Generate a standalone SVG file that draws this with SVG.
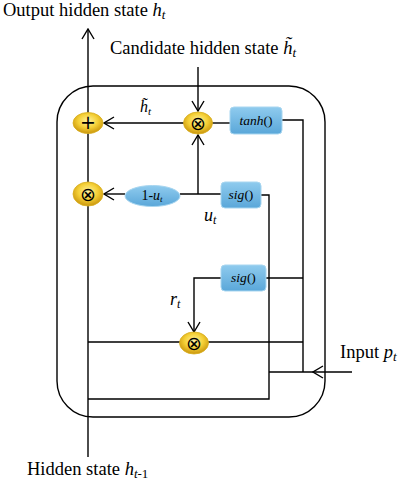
<svg xmlns="http://www.w3.org/2000/svg" width="401" height="481" viewBox="0 0 401 481">
<defs>
<radialGradient id="gold" cx="50%" cy="40%" r="60%">
<stop offset="0" stop-color="#fff3a0"/>
<stop offset="0.55" stop-color="#f4cf35"/>
<stop offset="1" stop-color="#c9940c"/>
</radialGradient>
<linearGradient id="blue" x1="0" y1="0" x2="0" y2="1">
<stop offset="0" stop-color="#8fcbee"/>
<stop offset="1" stop-color="#5aa7d9"/>
</linearGradient>
<marker id="arr" markerUnits="userSpaceOnUse" markerWidth="12" markerHeight="14" refX="11" refY="7" orient="auto">
<path d="M1,1 L11,7 L1,13" fill="none" stroke="#000" stroke-width="1.4"/>
</marker>
<style>
.ln{fill:none;stroke:#000;stroke-width:1.4}
.ar{fill:none;stroke:#000;stroke-width:1.4;marker-end:url(#arr)}
.g{fill:url(#gold);stroke:#d9b020;stroke-width:0.8}
.b{fill:url(#blue);stroke:#a8d6f0;stroke-width:1}
.t{font-family:"Liberation Serif",serif;font-size:18.5px;fill:#000}
.i{font-family:"Liberation Serif",serif;font-style:italic;fill:#000}
.op{font-family:"DejaVu Sans",sans-serif;font-size:19px;fill:#000;text-anchor:middle}
</style>
</defs>
<rect x="57" y="86" width="268" height="331" rx="36" ry="36" fill="none" stroke="#000" stroke-width="1.4"/>
<g id="connectors">
<path class="ar" d="M88,457 V29"/>
<path class="ar" d="M198,67 V111"/>
<path class="ar" d="M184,123 H104"/>
<path class="ar" d="M198,194 V135"/>
<path class="ar" d="M125,194 H104"/>
<path class="ar" d="M221,278 H194 V332"/>
<path class="ar" d="M352,372 H313"/>
<path class="ln" d="M313,372 H269"/>
<path class="ln" d="M212,123 H230"/>
<path class="ln" d="M282,120 H303 V372"/>
<path class="ln" d="M180,194 H221"/>
<path class="ln" d="M261,195 H269 V399 H88"/>
<path class="ln" d="M266,278 H303"/>
<path class="ln" d="M88,342 H180 M208,342 H303"/>
</g>
<g id="plus">
<ellipse class="g" cx="88" cy="123" rx="15" ry="10.5"/>
<text class="op" x="88" y="129" font-size="16">+</text>
</g>
<g id="mul-top">
<ellipse class="g" cx="198" cy="123" rx="14.5" ry="11"/>
<text class="op" x="198" y="129.5">⊗</text>
</g>
<g id="mul-left">
<ellipse class="g" cx="88" cy="194" rx="15" ry="12"/>
<text class="op" x="88" y="200.5">⊗</text>
</g>
<g id="mul-bottom">
<ellipse class="g" cx="194" cy="343" rx="14.5" ry="11"/>
<text class="op" x="194" y="349.5">⊗</text>
</g>
<g id="tanh">
<rect class="b" x="230" y="107" width="52" height="27" rx="4"/>
<text class="i" x="256" y="125" font-size="13.5" text-anchor="middle">tanh<tspan font-style="normal">()</tspan></text>
</g>
<g id="sig1">
<rect class="b" x="221" y="182" width="40" height="26" rx="4"/>
<text class="i" x="241" y="199" font-size="13.5" text-anchor="middle">sig<tspan font-style="normal">()</tspan></text>
</g>
<g id="sig2">
<rect class="b" x="221" y="265" width="45" height="26" rx="4"/>
<text class="i" x="243.5" y="282" font-size="13.5" text-anchor="middle">sig<tspan font-style="normal">()</tspan></text>
</g>
<g id="one-minus-u">
<ellipse class="b" cx="152.5" cy="196" rx="27.5" ry="10.5"/>
<text x="152" y="200" font-family="Liberation Serif, serif" font-size="14" text-anchor="middle">1-<tspan font-style="italic">u</tspan><tspan font-style="italic" font-size="9" dy="2">t</tspan></text>
</g>
<g id="labels">
<text class="t" x="3" y="16">Output hidden state <tspan font-style="italic">h</tspan><tspan font-style="italic" font-size="13" dy="3">t</tspan></text>
<text class="t" x="110" y="54">Candidate hidden state <tspan font-style="italic">h̃</tspan><tspan font-style="italic" font-size="13" dy="3">t</tspan></text>
<text class="i" x="140" y="112" font-size="16">h̃<tspan font-size="11" dy="3">t</tspan></text>
<text class="i" x="204" y="221" font-size="18">u<tspan font-size="12" dy="3">t</tspan></text>
<text class="i" x="170" y="305" font-size="18">r<tspan font-size="12" dy="3">t</tspan></text>
<text class="t" x="340" y="358">Input <tspan font-style="italic">p</tspan><tspan font-style="italic" font-size="13" dy="3">t</tspan></text>
<text class="t" x="27" y="475">Hidden state <tspan font-style="italic">h</tspan><tspan font-style="italic" font-size="13" dy="3">t-</tspan><tspan font-size="13">1</tspan></text>
</g>
</svg>
